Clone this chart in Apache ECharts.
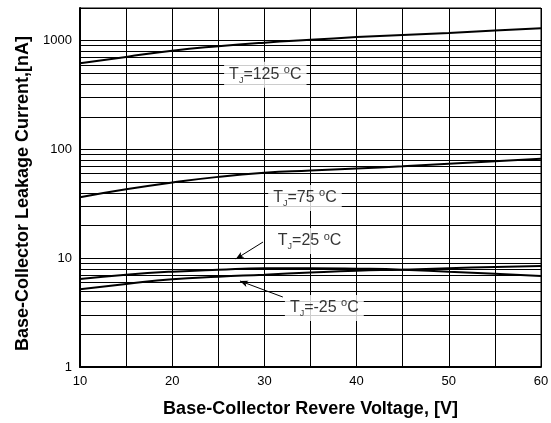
<!DOCTYPE html>
<html lang="en">
<head>
    <meta charset="UTF-8">
    <title>Leakage current</title>
    <script src="https://cdn.jsdelivr.net/npm/echarts@6/dist/echarts.min.js"></script>
</head>
<body style="margin:0">
<div id="main" style="width:551px;height:423px;"></div>

<script type="text/javascript">
    // data
    var voltage = [10, 15, 20, 25, 30, 35, 40, 45, 50, 55, 60];
    var tj125 = [620, 710, 810, 890, 960, 1020, 1080, 1130, 1180, 1240, 1300];
    var tj75 = [36.4, 43, 49.6, 56, 61, 64, 67, 70, 74, 78, 82];
    var tj25 = [6.45, 7.06, 7.53, 7.85, 8.09, 8.1, 8.02, 7.85, 7.5, 7.2, 6.87];
    var tjm25 = [5.19, 5.8, 6.41, 6.77, 7.06, 7.4, 7.69, 7.85, 8.09, 8.3, 8.5];
    var minorY = [2, 3, 4, 5, 6, 7, 8, 9, 20, 30, 40, 50, 60, 70, 80, 90, 200, 300, 400, 500, 600, 700, 800, 900];
    var yLabels = [1, 10, 100, 1000];

    // label text and where it sits (data coords)
    var labelText = ['125', '75', '25', '-25'];
    var labelPos = [[30.1, 486], [34.4, 35.9], [34.9, 14.4], [36.5, 3.49]];
    // arrows: [from, to]
    var arrows = [
        [[29.85, 14.1], [26.9, 9.85]],
        [[32.0, 4.4], [27.35, 6.18]]
    ];

    function pairs(ys) {
        return voltage.map(function (v, i) { return [v, ys[i]]; });
    }

    var font = '"Liberation Sans", Arial, sans-serif';
    var myChart = echarts.init(document.getElementById('main'));

    var curveStyle = {color: '#000', width: 2};
    var lines = [tj125, tj75, tj25, tjm25].map(function (ys) {
        return {
            type: 'line', data: pairs(ys), smooth: true, symbol: 'none',
            lineStyle: curveStyle, z: 5, silent: true
        };
    });

    var option = {
        animation: false,
        grid: {
            left: 80, right: 10, top: 8, bottom: 56, show: true,
            borderColor: '#000', borderWidth: 1,
            containLabel: false, outerBoundsMode: 'none'
        },
        xAxis: {
            type: 'value', min: 10, max: 60, interval: 5,
            name: 'Base-Collector Revere Voltage, [V]', nameLocation: 'middle', nameGap: 33,
            nameTextStyle: {fontFamily: font, fontWeight: 'bold', fontSize: 18, color: '#000'},
            axisLine: {lineStyle: {color: '#000', width: 2}},
            axisTick: {show: false},
            axisLabel: {
                fontFamily: font, fontSize: 13, color: '#000', margin: 8,
                formatter: function (v) { return v % 10 === 0 ? v : ''; }
            },
            splitLine: {lineStyle: {color: '#000', width: 1}}
        },
        yAxis: {
            type: 'log', logBase: 10, min: 1, max: 2000,
            name: 'Base-Collector Leakage Current,[nA]', nameLocation: 'middle', nameGap: 47,
            nameTextStyle: {fontFamily: font, fontWeight: 'bold', fontSize: 18, color: '#000', padding: [0, 12, 0, 0]},
            axisLine: {show: true, lineStyle: {color: '#000', width: 2}},
            axisTick: {show: false},
            axisLabel: {
                fontFamily: font, fontSize: 13, color: '#000', margin: 8,
                formatter: function (v) { return yLabels.indexOf(Math.round(v)) >= 0 ? Math.round(v) : ''; }
            },
            splitLine: {lineStyle: {color: '#000', width: 1}}
        },
        series: lines.concat([
            {
                // minor log gridlines
                type: 'line', data: [], silent: true,
                markLine: {
                    silent: true, symbol: 'none', animation: false,
                    label: {show: false},
                    lineStyle: {color: '#000', width: 1, type: 'solid'},
                    data: minorY.map(function (y) { return {yAxis: y}; })
                }
            },
            {
                // arrows
                type: 'line', data: [], silent: true, z: 6,
                markLine: {
                    silent: true, symbol: ['none', 'arrow'], symbolSize: [5, 8], animation: false,
                    label: {show: false},
                    lineStyle: {color: '#000', width: 1, type: 'solid'},
                    data: arrows.map(function (a) {
                        return [{coord: a[0]}, {coord: a[1]}];
                    })
                }
            },
            {
                // curve labels
                type: 'scatter', symbolSize: 0, silent: true, z: 10,
                data: labelPos.map(function (p, i) { return {value: p, name: labelText[i]}; }),
                label: {
                    show: true, position: 'inside',
                    backgroundColor: '#fff', padding: [3, 5, 3, 5],
                    formatter: function (p) {
                        return '{a|T}{s|J}{a|=' + p.name + ' }{o|o}{a|C}';
                    },
                    rich: {
                        a: {fontFamily: font, fontSize: 16, color: '#000', lineHeight: 20, verticalAlign: 'middle'},
                        s: {fontFamily: font, fontSize: 9, color: '#000', lineHeight: 20, verticalAlign: 'bottom'},
                        o: {fontFamily: font, fontSize: 11, color: '#000', lineHeight: 20, verticalAlign: 'top'}
                    }
                }
            }
        ])
    };
    myChart.setOption(option);
</script>
</body>
</html>
